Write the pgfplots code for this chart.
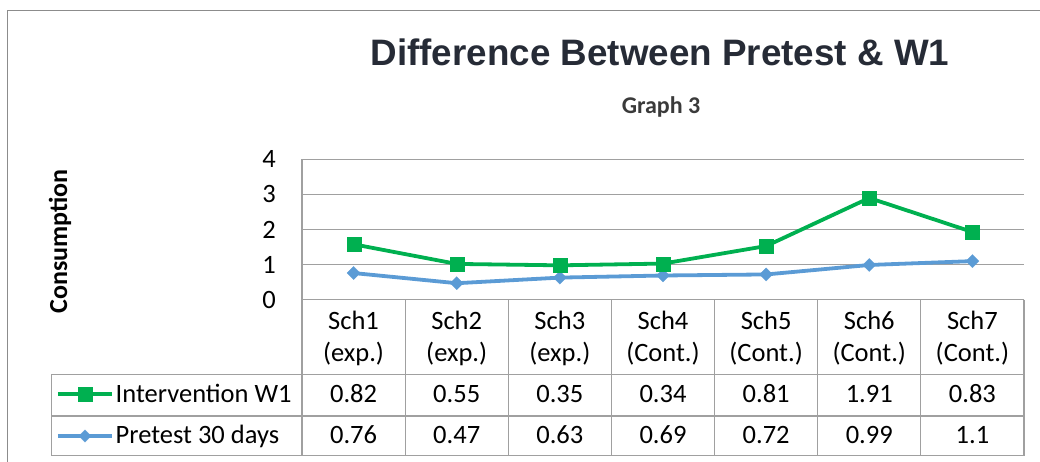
\documentclass[border=0pt]{standalone}
\usepackage{fontspec}
\usepackage{pgfplots}
\usepackage{pgfplotstable}
\pgfplotsset{compat=1.18}
\setmainfont{Carlito}
\newfontfamily\titlefont{Liberation Sans}

\definecolor{titlec}{HTML}{262B36}
\definecolor{subc}{HTML}{3A3A3A}
\definecolor{gridc}{HTML}{A0A0A0}
\definecolor{framec}{HTML}{8C8C8C}
\definecolor{w1green}{HTML}{00B050}
\definecolor{preblue}{HTML}{5B9BD5}

\newcommand{\tabfont}{\fontsize{26.5}{32.5}\selectfont}

% pre = Pretest 30 days, diff = Intervention W1 (stacked on top of pretest)
\pgfplotstableread{
x pre  diff
1 0.76 0.82
2 0.47 0.55
3 0.63 0.35
4 0.69 0.34
5 0.72 0.81
6 0.99 1.91
7 1.1  0.83
}\data

\begin{document}
\begin{tikzpicture}
\useasboundingbox (0pt,0pt) rectangle (1040pt,-462pt);

\node[anchor=base, font=\titlefont\bfseries\fontsize{36.8}{40}\selectfont, text=titlec]
  at (660pt,-66pt) {Difference Between Pretest \& W1};
\node[anchor=base, font=\bfseries\fontsize{24}{28}\selectfont, text=subc]
  at (661pt,-113.3pt) {Graph 3};
\node[rotate=90, font=\bfseries\fontsize{26}{30}\selectfont]
  at (60pt,-241.5pt) {Consumption};

\begin{axis}[
  at={(302pt,-299.7pt)}, anchor=south west,
  width=722pt, height=140.3pt, scale only axis,
  xmin=0.5, xmax=7.5, ymin=0, ymax=4,
  clip=false,
  axis lines*=left,
  axis line style={gridc, line width=1.2pt},
  ymajorgrids, grid style={gridc, line width=1.2pt},
  major tick length=0pt,
  ytick={0,1,2,3,4},
  xtick={1,...,7},
  xticklabels={{Sch1\\(exp.)},{Sch2\\(exp.)},{Sch3\\(exp.)},{Sch4\\(Cont.)},{Sch5\\(Cont.)},{Sch6\\(Cont.)},{Sch7\\(Cont.)}},
  xticklabel style={align=center, anchor=north, inner sep=0pt, yshift=-11pt, font=\tabfont},
  yticklabel style={anchor=east, inner sep=0pt, xshift=-26pt, font=\tabfont},
  /pgf/number format/assume math mode=true,
]
\addplot[preblue, line width=3.8pt, mark=square*, mark size=4.7pt,
  mark options={rotate=45, line width=0.1pt}]
  table[x=x, y=pre] {\data};
\addplot[w1green, line width=3.8pt, mark=square*, mark size=7pt,
  mark options={line width=0.1pt}]
  table[x=x, y expr=\thisrow{pre}+\thisrow{diff}] {\data};

% data table values
\addplot[draw=none, mark=none, nodes near coords, point meta=explicit symbolic,
  nodes near coords style={anchor=base, inner sep=0pt, font=\tabfont, text=black}]
  table[x=x, y expr=-2.917, meta=diff] {\data};
\addplot[draw=none, mark=none, nodes near coords, point meta=explicit symbolic,
  nodes near coords style={anchor=base, inner sep=0pt, font=\tabfont, text=black}]
  table[x=x, y expr=-4.100, meta=pre] {\data};

% legend keys in the table
\addplot[w1green, line width=3.8pt, mark=square*, mark size=7pt,
  mark repeat=2, mark phase=2, mark options={line width=0.1pt}]
  coordinates {(-1.8657,-2.697) (-1.604,-2.697) (-1.3446,-2.697)};
\addplot[preblue, line width=3.8pt, mark=square*, mark size=4.4pt,
  mark repeat=2, mark phase=2, mark options={rotate=45, line width=0.1pt}]
  coordinates {(-1.8657,-3.886) (-1.604,-3.886) (-1.3446,-3.886)};
\end{axis}

\node[anchor=base west, inner sep=0pt, font=\tabfont] at (115.5pt,-402pt) {Intervention W1};
\node[anchor=base west, inner sep=0pt, font=\tabfont] at (115.5pt,-443.5pt) {Pretest 30 days};

% table grid
\begin{scope}[gridc, line width=1.2pt]
  \draw (302pt,-299.7pt) -- (302pt,-455.7pt);
  \foreach \k in {1,...,7} {
    \pgfmathsetmacro{\xx}{302+103.143*\k}
    \draw (\xx pt,-299.7pt) -- (\xx pt,-455.7pt);
  }
  \draw (51.7pt,-374.3pt) -- (1024pt,-374.3pt);
  \draw (51.7pt,-416pt) -- (1024pt,-416pt);
  \draw (51.7pt,-455.7pt) -- (1024pt,-455.7pt);
  \draw (51.7pt,-374.3pt) -- (51.7pt,-455.7pt);
\end{scope}
\draw[framec, line width=1pt] (7pt,-462pt) -- (7pt,-11pt) -- (1040pt,-11pt);
\end{tikzpicture}
\end{document}
